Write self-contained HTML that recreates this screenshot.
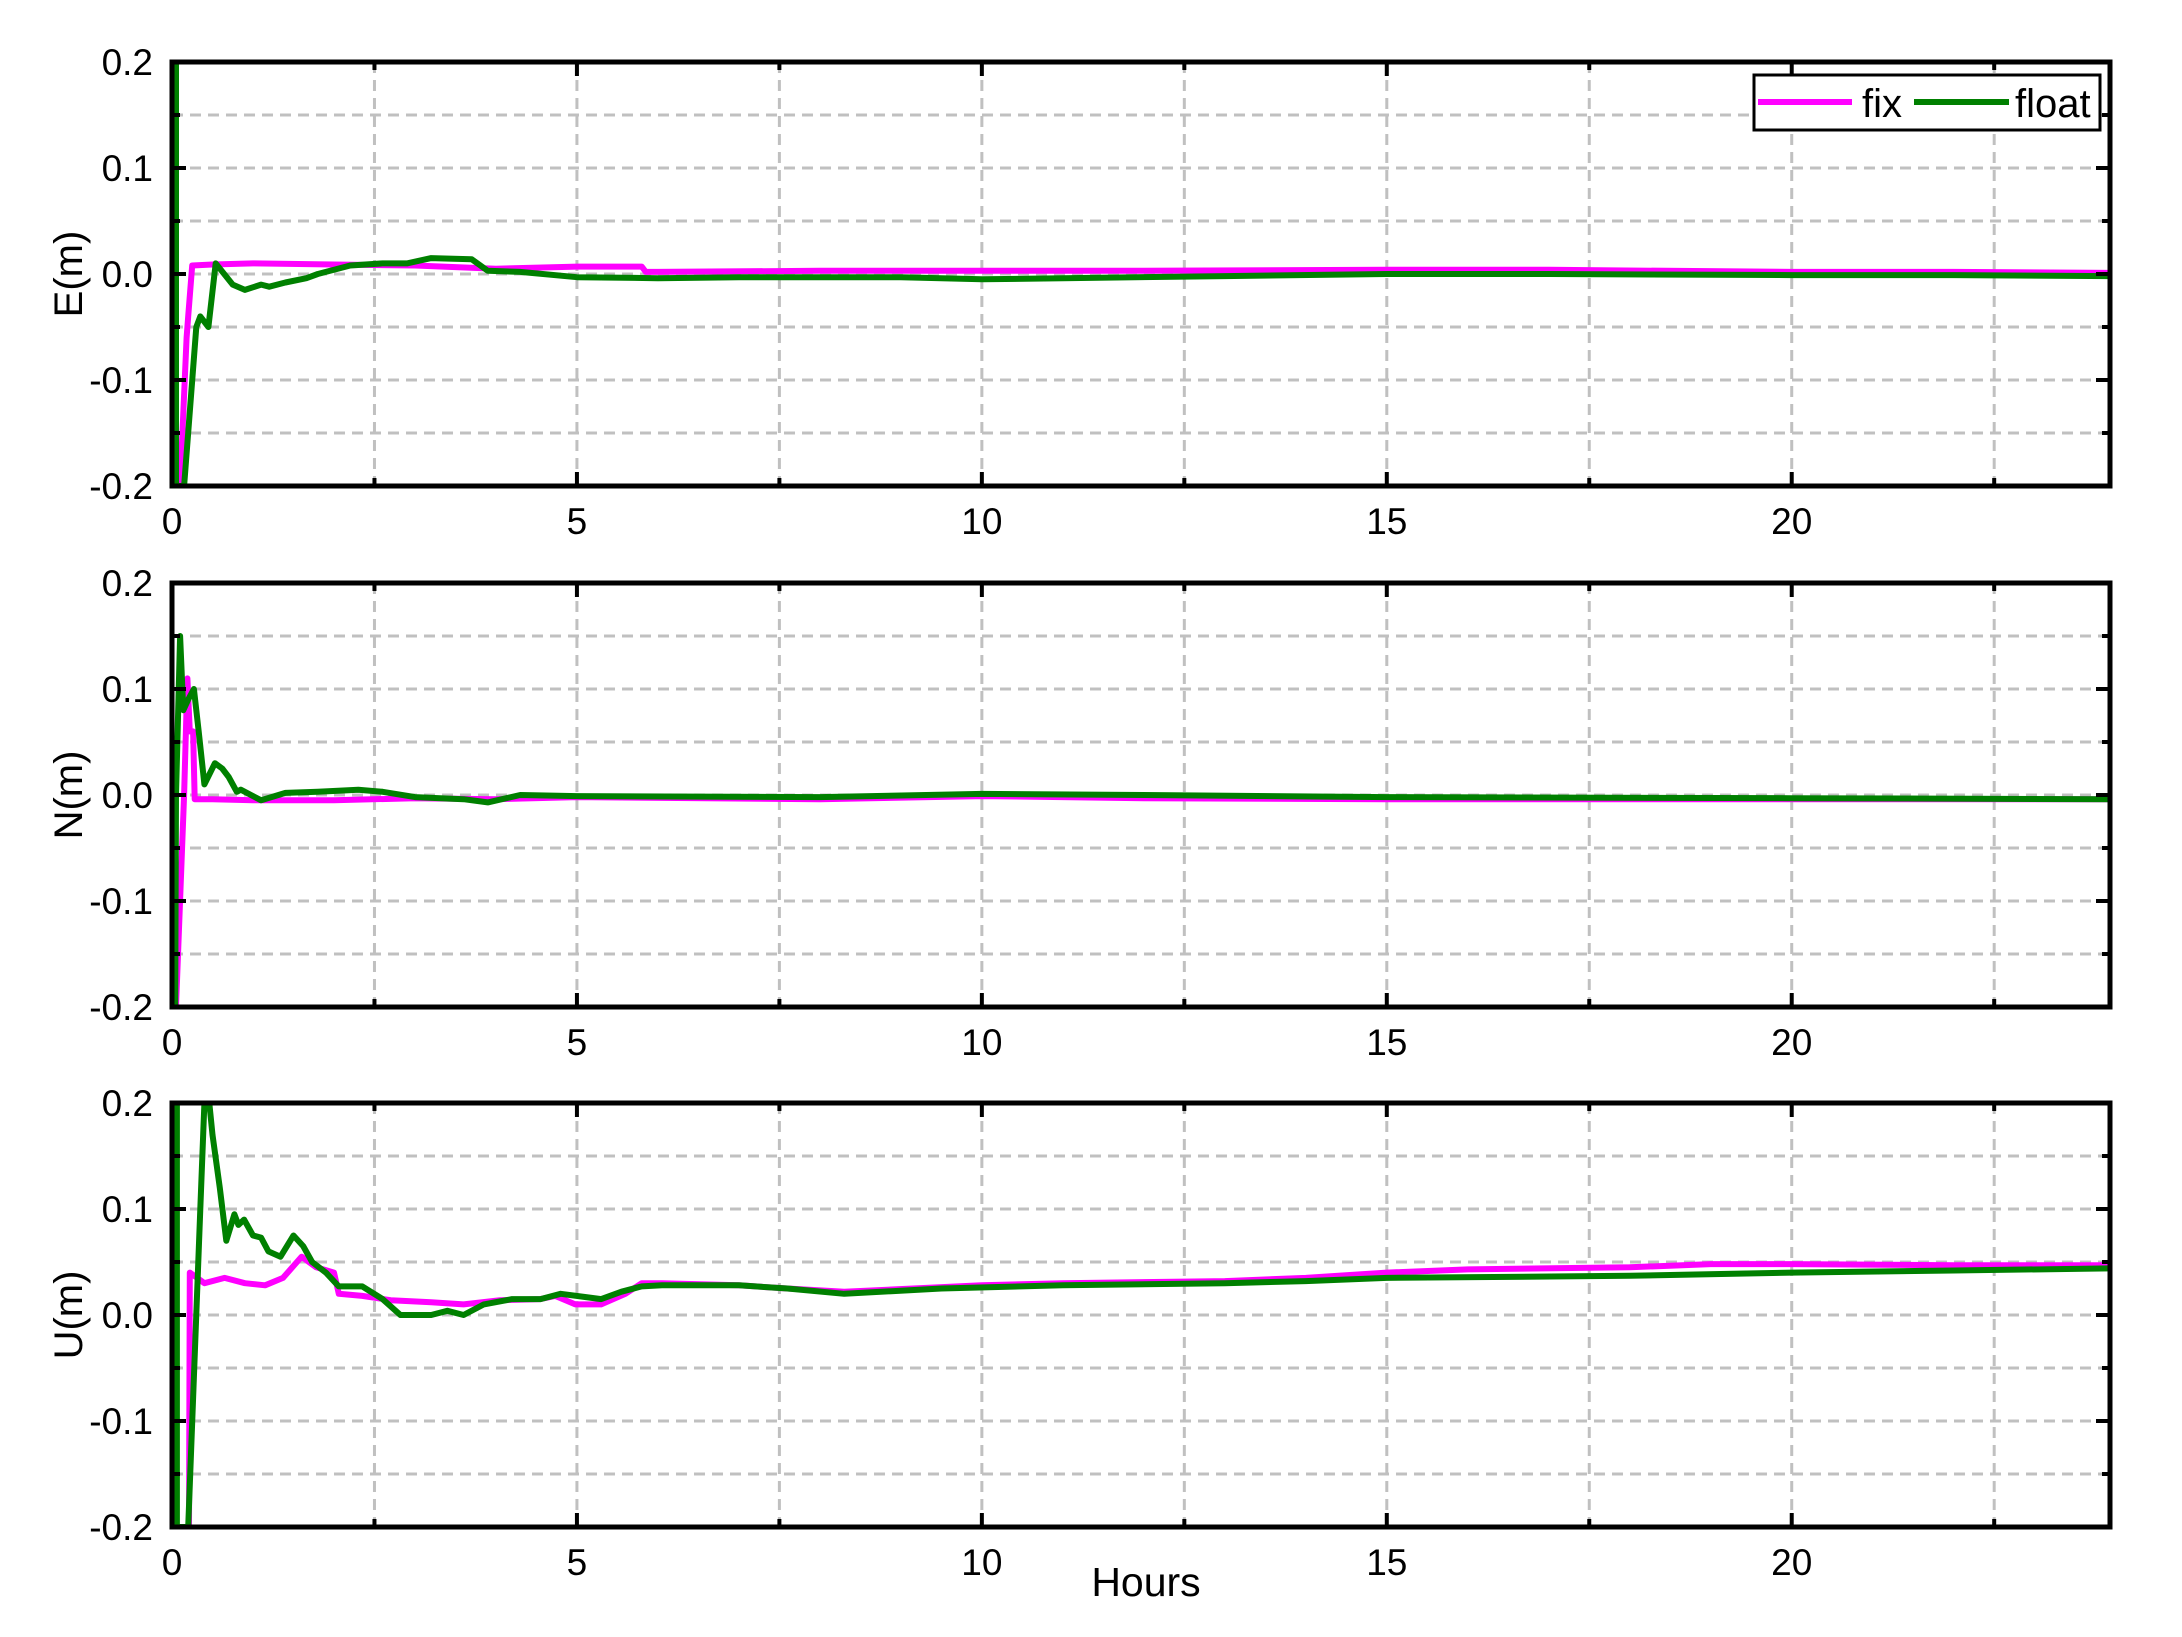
<!DOCTYPE html>
<html><head><meta charset="utf-8"><style>
html,body{margin:0;padding:0;background:#fff;}
svg{display:block;font-family:"Liberation Sans",Arial,sans-serif;}
</style></head><body>
<svg id="chart" width="2182" height="1637" viewBox="0 0 2182 1637" xmlns="http://www.w3.org/2000/svg"></svg>
<script>
// ---- data (hours, metres) ----
const xTicks = [0, 5, 10, 15, 20];
const yTicks = [-0.2, -0.1, 0.0, 0.1, 0.2];
const yTickLabels = ["-0.2", "-0.1", "0.0", "0.1", "0.2"];
const panelNames = ["E(m)", "N(m)", "U(m)"];

const fixE_t = [0.10,0.18,0.20,0.25,0.5,1.0,2.0,3.0,4.0,5.0,5.8,5.85,6.0,8,10,12,15,17,20,22,23.93];
const fixE_v = [-0.2,-0.06,-0.04,0.008,0.009,0.010,0.009,0.008,0.005,0.007,0.007,0.002,0.002,0.003,0.003,0.003,0.004,0.004,0.002,0.002,0.001];
const floatE_t = [0.05,0.05,0.15,0.30,0.35,0.45,0.54,0.75,0.9,1.1,1.2,1.4,1.66,1.8,2.2,2.6,2.9,3.2,3.7,3.9,4.3,5.0,6.0,7.0,8.5,9.0,10,11,13,15,17,20,22,23.93];
const floatE_v = [0.2,-0.2,-0.2,-0.05,-0.04,-0.05,0.01,-0.01,-0.015,-0.01,-0.012,-0.008,-0.004,0.0,0.008,0.01,0.01,0.015,0.014,0.003,0.002,-0.003,-0.004,-0.003,-0.003,-0.003,-0.005,-0.004,-0.002,0.0,0.0,-0.001,-0.001,-0.002];

const fixN_t = [0.05,0.15,0.19,0.22,0.26,0.28,0.5,1.0,2.0,3.0,4.0,5.0,8,10,12,15,20,23.93];
const fixN_v = [-0.2,0.0,0.11,0.06,0.06,-0.004,-0.004,-0.005,-0.005,-0.003,-0.004,-0.002,-0.004,-0.001,-0.003,-0.004,-0.004,-0.004];
const floatN_t = [0.04,0.05,0.10,0.14,0.20,0.27,0.33,0.40,0.53,0.62,0.70,0.80,0.85,1.1,1.4,1.8,2.3,2.6,3.0,3.6,3.9,4.3,5,8,10,12,15,20,23.93];
const floatN_v = [-0.2,0.0,0.15,0.08,0.09,0.10,0.06,0.01,0.03,0.025,0.017,0.003,0.005,-0.005,0.002,0.003,0.005,0.003,-0.002,-0.004,-0.007,0.0,-0.001,-0.002,0.001,0.0,-0.002,-0.003,-0.004];

const fixU_t = [0.21,0.22,0.4,0.65,0.9,1.15,1.37,1.6,1.78,2.0,2.06,2.35,2.7,3.2,3.6,4.05,4.55,4.73,4.98,5.3,5.6,5.8,6.05,7,7.6,8.3,10,11,13,14,15,16,18,19,20,22,23.93];
const fixU_v = [-0.2,0.04,0.03,0.035,0.03,0.028,0.035,0.055,0.045,0.04,0.02,0.018,0.014,0.012,0.01,0.014,0.015,0.018,0.01,0.01,0.02,0.03,0.03,0.028,0.025,0.022,0.028,0.03,0.032,0.035,0.04,0.043,0.045,0.048,0.048,0.047,0.047];
const floatU_t = [0.06,0.06,0.2,0.35,0.40,0.46,0.50,0.59,0.67,0.77,0.82,0.89,1.0,1.1,1.19,1.34,1.5,1.62,1.73,1.9,2.06,2.35,2.6,2.82,3.2,3.4,3.6,3.85,4.2,4.55,4.8,5.1,5.3,5.55,5.8,6.05,7,7.6,8.3,9.5,11,13,14,15,18,20,22,23.93];
const floatU_v = [0.2,-0.2,-0.2,0.1,0.2,0.2,0.17,0.12,0.07,0.095,0.085,0.09,0.075,0.073,0.06,0.055,0.075,0.065,0.05,0.04,0.027,0.027,0.015,0.0,0.0,0.004,0.0,0.01,0.015,0.015,0.02,0.017,0.015,0.022,0.027,0.028,0.028,0.025,0.02,0.025,0.028,0.03,0.032,0.035,0.037,0.04,0.042,0.044];

const panels = [
  {top:62, fix:[fixE_t,fixE_v], flt:[floatE_t,floatE_v], legend:true},
  {top:583, fix:[fixN_t,fixN_v], flt:[floatN_t,floatN_v]},
  {top:1103, fix:[fixU_t,fixU_v], flt:[floatU_t,floatU_v]}
];
// ---- layout ----
const L = 172, R = 2110, H = 424, XMAX = 23.93, YMIN = -0.2, YMAX = 0.2;
const NS = "http://www.w3.org/2000/svg";
const svg = document.getElementById('chart');
function el(tag, attrs, parent) {
  const e = document.createElementNS(NS, tag);
  for (const k in attrs) e.setAttribute(k, attrs[k]);
  (parent || svg).appendChild(e);
  return e;
}
const xs = t => L + (t / XMAX) * (R - L);

panels.forEach((p, i) => {
  const T = p.top, B = T + H;
  const ys = v => B - (v - YMIN) / (YMAX - YMIN) * H;
  const g = el('g', {});
  
  
  const clipId = 'clip' + i;
  const cp = el('clipPath', {id: clipId}, g);
  el('rect', {x: L, y: T, width: R - L, height: H}, cp);
  for (let t = 2.5; t < XMAX; t += 2.5) {
    const gl = el('line', {x1: xs(t), x2: xs(t), y1: T, y2: B, stroke: '#c0c0c0', 'stroke-width': 3, 'stroke-dasharray': '11,7'}, g);
    
    
  }
  for (let k = 1; k < 8; k++) {
    const v = YMIN + k * 0.05;
    const gl = el('line', {x1: L, x2: R, y1: ys(v), y2: ys(v), stroke: '#c0c0c0', 'stroke-width': 3, 'stroke-dasharray': '11,7'}, g);
    
    
  }
  [[p.fix, '#ff00ff', 'fix'], [p.flt, '#008000', 'float']].forEach(([s, c, nm]) => {
    const d = s[0].map((t, j) => (j ? 'L' : 'M') + xs(t).toFixed(1) + ',' + ys(s[1][j]).toFixed(1)).join(' ');
    const path = el('path', {d: d, fill: 'none', stroke: c, 'stroke-width': 6, 'stroke-linejoin': 'round', 'clip-path': 'url(#' + clipId + ')'}, g);
    
    
  });
  for (let t = 0; t < XMAX; t += 2.5) {
    const len = (Math.abs(t % 5) < 1e-6) ? 14 : 8;
    el('line', {x1: xs(t), x2: xs(t), y1: B, y2: B - len, stroke: '#000', 'stroke-width': 4}, g);
    el('line', {x1: xs(t), x2: xs(t), y1: T, y2: T + len, stroke: '#000', 'stroke-width': 4}, g);
  }
  for (let k = 0; k <= 8; k++) {
    const v = YMIN + k * 0.05, len = (k % 2 === 0) ? 14 : 8;
    el('line', {x1: L, x2: L + len, y1: ys(v), y2: ys(v), stroke: '#000', 'stroke-width': 4}, g);
    el('line', {x1: R, x2: R - len, y1: ys(v), y2: ys(v), stroke: '#000', 'stroke-width': 4}, g);
  }
  const frame = el('rect', {x: L, y: T, width: R - L, height: H, fill: 'none', stroke: '#000', 'stroke-width': 5}, g);
  
  
  xTicks.forEach(t => {
    const tx = el('text', {x: xs(t), y: B + 48, 'font-size': 37, 'text-anchor': 'middle'}, g);
    tx.textContent = String(t);
    
    
  });
  yTicks.forEach((v, j) => {
    const tx = el('text', {x: 153, y: ys(v) + 13, 'font-size': 37, 'text-anchor': 'end'}, g);
    tx.textContent = yTickLabels[j];
    
    
  });
  const yt = el('text', {x: 0, y: 0, 'font-size': 40, 'text-anchor': 'middle', transform: 'translate(82,' + (T + H / 2) + ') rotate(-90)'}, g);
  yt.textContent = panelNames[i];
  
  
  if (p.legend) {
    const lg = el('g', {}, g);
    
    
    el('rect', {x: 1754, y: 75, width: 346, height: 55, fill: '#fff', stroke: '#000', 'stroke-width': 3}, lg);
    el('line', {x1: 1758, x2: 1852, y1: 102, y2: 102, stroke: '#ff00ff', 'stroke-width': 6}, lg);
    const t1 = el('text', {x: 1862, y: 117, 'font-size': 40}, lg);
    t1.textContent = 'fix';
    
    
    el('line', {x1: 1914, x2: 2009, y1: 102, y2: 102, stroke: '#008000', 'stroke-width': 6}, lg);
    const t2 = el('text', {x: 2015, y: 117, 'font-size': 40}, lg);
    t2.textContent = 'float';
    
    
  }
});
const xt = el('text', {x: 1146, y: 1596, 'font-size': 41, 'text-anchor': 'middle'});
xt.textContent = 'Hours';


</script>
</body></html>
